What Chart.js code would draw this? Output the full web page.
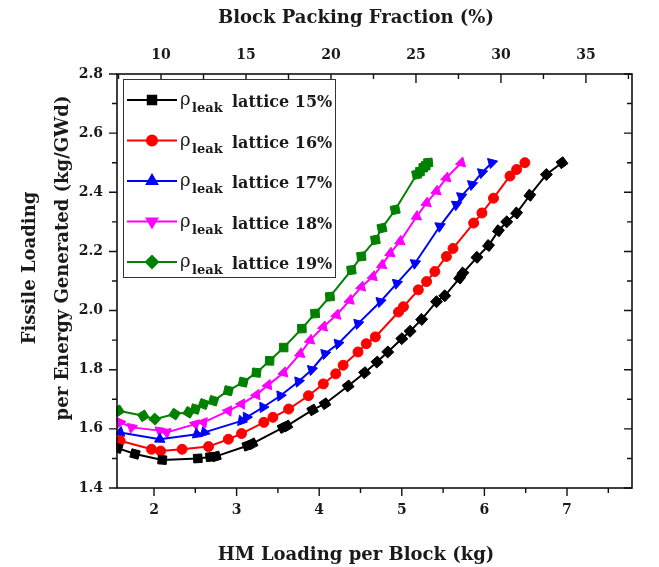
<!DOCTYPE html>
<html>
<head>
<meta charset="utf-8">
<script src="https://cdn.jsdelivr.net/npm/chart.js@4.4.0/dist/chart.umd.min.js"></script>
<style>
  html, body { margin: 0; padding: 0; background: #ffffff; }
  #wrap { width: 659px; height: 567px; position: relative; }
</style>
</head>
<body>
<div id="wrap"><canvas id="c"></canvas></div>
<script>
// HM loading per block (kg) and fissile loading per energy generated (kg/GWd)
const lattice15_hm = [1.56,1.77,2.10,2.53,2.68,2.75,3.13,3.19,3.56,3.61,3.92,4.07,4.35,4.55,4.70,4.83,5.00,5.10,5.24,5.42,5.52,5.70,5.74,5.91,6.05,6.17,6.27,6.39,6.55,6.75,6.94];
const lattice15_fl = [1.535,1.515,1.495,1.500,1.505,1.507,1.543,1.550,1.604,1.610,1.664,1.685,1.745,1.790,1.826,1.860,1.905,1.930,1.970,2.030,2.050,2.110,2.127,2.180,2.220,2.270,2.300,2.330,2.390,2.460,2.500];

const lattice16_hm = [1.59,1.97,2.08,2.34,2.66,2.90,3.06,3.33,3.44,3.63,3.87,4.05,4.20,4.29,4.47,4.57,4.68,4.96,5.02,5.20,5.30,5.40,5.54,5.62,5.87,5.97,6.11,6.31,6.39,6.49];
const lattice16_fl = [1.560,1.531,1.525,1.531,1.540,1.565,1.584,1.622,1.639,1.667,1.712,1.752,1.786,1.815,1.860,1.888,1.911,1.995,2.013,2.070,2.098,2.132,2.183,2.210,2.296,2.330,2.380,2.455,2.477,2.500];

const lattice17_hm = [1.59,2.07,2.52,2.61,3.06,3.12,3.32,3.53,3.75,3.91,4.07,4.23,4.47,4.74,4.94,5.16,5.46,5.66,5.72,5.85,5.97,6.09];
const lattice17_fl = [1.588,1.565,1.582,1.588,1.627,1.639,1.673,1.712,1.760,1.800,1.854,1.888,1.956,2.030,2.092,2.160,2.285,2.358,2.386,2.426,2.466,2.500];

const lattice18_hm = [1.59,1.73,2.07,2.15,2.50,2.60,2.90,3.06,3.24,3.38,3.57,3.77,3.89,4.05,4.21,4.37,4.51,4.65,4.76,4.86,4.98,5.18,5.30,5.42,5.54,5.72];
const lattice18_fl = [1.622,1.605,1.594,1.588,1.616,1.622,1.661,1.684,1.715,1.748,1.790,1.854,1.900,1.945,1.985,2.035,2.080,2.115,2.154,2.194,2.234,2.318,2.364,2.404,2.449,2.500];

const lattice19_hm = [1.57,1.87,2.01,2.25,2.42,2.50,2.60,2.72,2.90,3.08,3.24,3.40,3.57,3.79,3.95,4.13,4.39,4.51,4.68,4.76,4.92,5.18,5.22,5.26,5.29,5.32];
const lattice19_fl = [1.661,1.644,1.633,1.650,1.656,1.667,1.684,1.695,1.729,1.758,1.790,1.830,1.875,1.939,1.990,2.047,2.137,2.183,2.239,2.279,2.341,2.460,2.470,2.483,2.490,2.500];

const seriesPercent = ['15%', '16%', '17%', '18%', '19%'];

// Axis ranges and tick values
const hmRange = [1.552, 7.787];
const flRange = [1.4, 2.8];
const packingRange = [7.41, 37.71];
const hmTicks = [2, 3, 4, 5, 6, 7];
const hmMinorTicks = [2.5, 3.5, 4.5, 5.5, 6.5, 7.5];
const flTicks = [1.4, 1.6, 1.8, 2.0, 2.2, 2.4, 2.6, 2.8];
const flMinorTicks = [1.5, 1.7, 1.9, 2.1, 2.3, 2.5, 2.7];
const packingTicks = [10, 15, 20, 25, 30, 35];
const packingMinorTicks = [7.5, 12.5, 17.5, 22.5, 27.5, 32.5, 37.5];

const SERIF = "'DejaVu Serif', 'Liberation Serif', serif";

function pairs(xs, ys) { return xs.map((x, i) => ({ x: x, y: ys[i] })); }

// Markers follow the local direction of the curve
function curveAngle(ctx) {
  if (ctx.dataIndex === undefined) return 0;
  const chart = ctx.chart, data = ctx.dataset.data, i = ctx.dataIndex;
  const xs = chart.scales.x, ys = chart.scales.y;
  if (!xs || !ys || !data[i]) return 0;
  const a = data[Math.max(0, i - 1)], b = data[Math.min(data.length - 1, i + 1)];
  const dx = xs.getPixelForValue(b.x) - xs.getPixelForValue(a.x);
  const dy = ys.getPixelForValue(b.y) - ys.getPixelForValue(a.y);
  return Math.atan2(dy, dx) * 180 / Math.PI;
}

function series(hm, fl, color, style, radius, baseRot) {
  return {
    data: pairs(hm, fl),
    borderColor: color,
    backgroundColor: color,
    borderWidth: 2,
    pointStyle: style,
    pointRadius: radius,
    pointBorderWidth: 1,
    pointBackgroundColor: color,
    pointBorderColor: color,
    pointRotation: (ctx) => baseRot + curveAngle(ctx),
    tension: 0,
    clip: 1,
    legendRotation: baseRot
  };
}

const datasets = [
  series(lattice15_hm, lattice15_fl, '#000000', 'rect', 6, 0),
  series(lattice16_hm, lattice16_fl, '#ff0000', 'circle', 5, 0),
  series(lattice17_hm, lattice17_fl, '#0000ff', 'triangle', 6, 0),
  series(lattice18_hm, lattice18_fl, '#ff00ff', 'triangle', 6, 180),
  series(lattice19_hm, lattice19_fl, '#008000', 'rectRot', 6, 0)
];

// Frame, inward/outward tick marks, axis titles and the legend box
const decorations = {
  id: 'decorations',
  afterDatasetsDraw(chart) {
    const ctx = chart.ctx;
    const a = chart.chartArea;
    const xs = chart.scales.x, ys = chart.scales.y, xt = chart.scales.xTop;
    ctx.save();
    ctx.strokeStyle = '#111';
    ctx.lineWidth = 1.6;
    ctx.strokeRect(a.left, a.top, a.right - a.left, a.bottom - a.top);
    ctx.lineWidth = 1.4;
    ctx.beginPath();
    const tick = (x1, y1, x2, y2) => { ctx.moveTo(x1, y1); ctx.lineTo(x2, y2); };
    hmTicks.forEach(v => { const p = xs.getPixelForValue(v); tick(p, a.bottom, p, a.bottom + 8); });
    hmMinorTicks.forEach(v => { const p = xs.getPixelForValue(v); if (p <= a.right) tick(p, a.bottom, p, a.bottom + 5); });
    flTicks.forEach(v => { const p = ys.getPixelForValue(v); tick(a.left - 8, p, a.left, p); tick(a.right, p, a.right - 8, p); });
    flMinorTicks.forEach(v => { const p = ys.getPixelForValue(v); tick(a.left - 5, p, a.left, p); tick(a.right, p, a.right - 5, p); });
    packingTicks.forEach(v => { const p = xt.getPixelForValue(v); tick(p, a.top, p, a.top + 9); });
    packingMinorTicks.forEach(v => { const p = xt.getPixelForValue(v); if (p >= a.left && p <= a.right) tick(p, a.top, p, a.top + 5); });
    ctx.stroke();

    // axis titles
    ctx.fillStyle = '#1a1a1a';
    ctx.font = 'bold 18px ' + SERIF;
    ctx.textAlign = 'center';
    ctx.textBaseline = 'middle';
    ctx.fillText('Block Packing Fraction (%)', 356, 18);
    ctx.fillText('HM Loading per Block (kg)', 356, 555);
    ctx.save();
    ctx.translate(30, 268);
    ctx.rotate(-Math.PI / 2);
    ctx.fillText('Fissile Loading', 0, 0);
    ctx.restore();
    ctx.save();
    ctx.translate(63, 258);
    ctx.rotate(-Math.PI / 2);
    ctx.fillText('per Energy Generated (kg/GWd)', 0, 0);
    ctx.restore();

    // legend
    const bx = 123, by = 79, bw = 212, bh = 198;
    ctx.fillStyle = '#ffffff';
    ctx.fillRect(bx, by, bw, bh);
    ctx.strokeStyle = '#333';
    ctx.lineWidth = 1;
    ctx.strokeRect(bx + 0.5, by + 0.5, bw, bh);
    chart.data.datasets.forEach((ds, i) => {
      const yc = 100 + 40.5 * i;
      ctx.strokeStyle = ds.borderColor;
      ctx.lineWidth = 2;
      ctx.beginPath();
      ctx.moveTo(127, yc);
      ctx.lineTo(177, yc);
      ctx.stroke();
      ctx.fillStyle = ds.borderColor;
      Chart.helpers.drawPoint(ctx, {
        pointStyle: ds.pointStyle, radius: ds.pointRadius,
        rotation: ds.legendRotation, borderWidth: 1
      }, 152, yc);
      ctx.fillStyle = '#1a1a1a';
      ctx.textAlign = 'left';
      ctx.textBaseline = 'alphabetic';
      ctx.font = '18px ' + SERIF;
      ctx.fillText('\u03c1', 180, yc + 5);
      ctx.font = 'bold 13px ' + SERIF;
      ctx.fillText('leak', 192, yc + 12);
      ctx.font = 'bold 16px ' + SERIF;
      ctx.fillText('lattice ' + seriesPercent[i], 232, yc + 7);
    });
    ctx.restore();
  }
};

const tickFont = { family: SERIF, size: 14, weight: 'bold' };

new Chart(document.getElementById('c'), {
  type: 'line',
  data: { datasets: datasets },
  options: {
    responsive: true,
    maintainAspectRatio: false,
    animation: false,
    layout: { padding: { left: 0, right: 27, top: 0, bottom: 0 } },
    plugins: { legend: { display: false }, tooltip: { enabled: false } },
    scales: {
      x: {
        type: 'linear', position: 'bottom',
        min: hmRange[0], max: hmRange[1],
        grid: { display: false, drawTicks: false },
        border: { display: false },
        afterBuildTicks: s => { s.ticks = hmTicks.map(v => ({ value: v })); },
        afterFit: s => { s.height = 79; },
        ticks: { font: tickFont, color: '#1a1a1a', padding: 14, maxRotation: 0, callback: v => String(v) }
      },
      xTop: {
        type: 'linear', position: 'top',
        min: packingRange[0], max: packingRange[1],
        grid: { display: false, drawTicks: false },
        border: { display: false },
        afterBuildTicks: s => { s.ticks = packingTicks.map(v => ({ value: v })); },
        afterFit: s => { s.height = 74; },
        ticks: { font: tickFont, color: '#1a1a1a', padding: 10, maxRotation: 0, callback: v => String(v) }
      },
      y: {
        type: 'linear', position: 'left',
        min: flRange[0], max: flRange[1],
        grid: { display: false, drawTicks: false },
        border: { display: false },
        afterBuildTicks: s => { s.ticks = flTicks.map(v => ({ value: v })); },
        afterFit: s => { s.width = 117; },
        ticks: { font: tickFont, color: '#1a1a1a', padding: 14, callback: v => Number(v).toFixed(1) }
      }
    }
  },
  plugins: [decorations]
});
</script>
</body>
</html>
